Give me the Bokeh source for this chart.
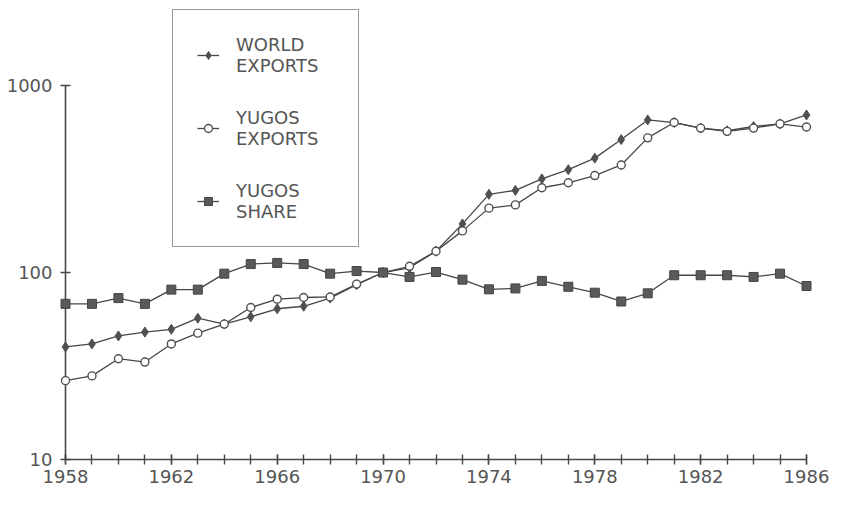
from bokeh.plotting import figure
from bokeh.models import Range1d, FixedTicker, Legend, LegendItem, PrintfTickFormatter
from bokeh.embed import file_html
from bokeh.resources import INLINE

years = [1958, 1959, 1960, 1961, 1962, 1963, 1964, 1965, 1966, 1967,
         1968, 1969, 1970, 1971, 1972, 1973, 1974, 1975, 1976, 1977,
         1978, 1979, 1980, 1981, 1982, 1983, 1984, 1985, 1986]
world_exports = [40, 41.5, 45.8, 48, 49.7, 57, 53, 58, 64, 66,
                 73, 86, 100, 106, 130, 182, 262, 275, 317, 355,
                 409, 514, 655, 634, 592, 573, 604, 624, 696]
yugos_exports = [26.4, 28, 34.6, 33.2, 41.5, 47.4, 53, 65, 72, 73.5,
                 74, 86.7, 100, 108, 130, 167, 221, 230, 284, 302,
                 330, 376, 525, 634, 592, 569, 592, 624, 600]
yugos_share = [68, 68, 73, 68, 81, 81, 98.6, 111, 112.5, 111,
               98.6, 101.8, 100, 94.7, 100.6, 91.6, 81.3, 82.2, 90.2, 83.9,
               78, 70, 77.4, 96.7, 96.7, 96.7, 94.7, 98.6, 84.7]
x_tick_years = [1958, 1962, 1966, 1970, 1974, 1978, 1982, 1986]
y_ticks = [10, 100, 1000]
legend_labels = ["WORLD\nEXPORTS", "YUGOS\nEXPORTS", "YUGOS\nSHARE"]

INK = "#474747"
TXT = "#555555"
FONT = "DejaVu Sans"

# y range extends above 1000 so the legend box (above the 1000 line) is not clipped;
# the axis line itself is bounded to 10..1000
p = figure(width=829, height=489, y_axis_type="log",
           x_range=Range1d(years[0], years[-1]), y_range=Range1d(y_ticks[0], 2850),
           output_backend="svg", toolbar_location=None,
           min_border_left=65, min_border_right=23, min_border_top=0, min_border_bottom=30)
p.outline_line_color = None
p.grid.visible = False
p.background_fill_color = "white"
p.border_fill_color = "white"

for ax in (p.xaxis, p.yaxis):
    ax.axis_line_color = INK
    ax.axis_line_width = 1.6
    ax.major_tick_line_color = INK
    ax.major_tick_line_width = 1.4
    ax.major_label_text_font = FONT
    ax.major_label_text_font_size = "18px"
    ax.major_label_text_color = TXT

p.xaxis.ticker = FixedTicker(ticks=x_tick_years, minor_ticks=years)
p.xaxis.major_tick_in = 5
p.xaxis.major_tick_out = 5
p.xaxis.minor_tick_in = 5
p.xaxis.minor_tick_out = 5
p.xaxis.minor_tick_line_color = INK
p.xaxis.minor_tick_line_width = 1.4
p.xaxis.major_label_standoff = 5

p.yaxis.ticker = FixedTicker(ticks=y_ticks)
p.yaxis.bounds = (y_ticks[0], y_ticks[-1])
p.yaxis.formatter = PrintfTickFormatter(format="%d")
p.yaxis.major_tick_in = 5
p.yaxis.major_tick_out = 5
p.yaxis.minor_tick_line_color = None
p.yaxis.major_label_standoff = 8

lw = p.line(years, world_exports, line_color=INK, line_width=1.3, level="overlay")
sw = p.scatter(years, world_exports, marker="diamond", size=10,
               fill_color="#505050", line_color="#505050", level="overlay")
ly = p.line(years, yugos_exports, line_color=INK, line_width=1.3, level="overlay")
sy = p.scatter(years, yugos_exports, marker="circle", size=8,
               fill_color="white", line_color="#505050", line_width=1.4, level="overlay")
ls = p.line(years, yugos_share, line_color=INK, line_width=1.3, level="overlay")
ss = p.scatter(years, yugos_share, marker="square", size=9,
               fill_color="#5a5a5a", line_color="#444444", level="overlay")

legend = Legend(
    items=[LegendItem(label=legend_labels[0], renderers=[lw, sw]),
           LegendItem(label=legend_labels[1], renderers=[ly, sy]),
           LegendItem(label=legend_labels[2], renderers=[ls, ss])],
    location=(107, 212),
    border_line_color="#333333", border_line_width=1.6,
    background_fill_color="white", background_fill_alpha=1.0,
    padding=24, spacing=31, margin=0,
    glyph_width=22, label_standoff=17, label_width=98,
    label_text_font=FONT, label_text_font_size="18px",
    label_text_color=TXT,
)
p.add_layout(legend)

open("out.html", "w").write(file_html(p, INLINE))
